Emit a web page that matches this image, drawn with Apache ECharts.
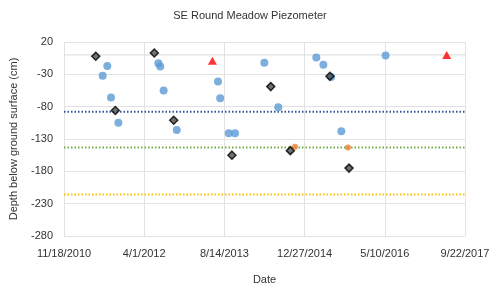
<!DOCTYPE html>
<html>
<head>
<meta charset="utf-8">
<script src="https://cdn.jsdelivr.net/npm/echarts@6/dist/echarts.min.js"></script>
<style>
  html, body { margin: 0; padding: 0; background: #fff; }
  #chart { width: 500px; height: 290px; }
</style>
</head>
<body>
<div id="chart"></div>
<script>
  // dates are Excel serial day numbers (40500 = 11/18/2010)
  var blueDates = [40741, 40770, 40793, 40839, 41088, 41100, 41121, 41203, 41460, 41474, 41527, 41566, 41749, 41836, 42073, 42117, 42165, 42229, 42505];
  var blueDepths = [-32, -17, -66, -105, -13, -18, -55, -116, -41, -67, -121, -121, -12, -81, -4, -15, -34, -118, -1];

  var diamondDates = [40698, 40820, 41063, 41184, 41547, 41789, 41911, 42158, 42277];
  var diamondDepths = [-2, -86, 3, -101, -155, -49, -148, -33, -175];

  var orangeDates = [41940, 42270];
  var orangeDepths = [-142, -143];

  var redDates = [41425, 42886];
  var redDepths = [-9, 0];

  // horizontal reference levels
  var refLevels = [-88, -143, -216];
  var refColors = ['#2F5597', '#70AD47', '#FFC000'];

  var xTicks = { min: 40500, max: 43000, step: 500 };
  var yTicks = { min: -280, max: 20, step: 50 };

  function pairs(xs, ys) {
    return xs.map(function(x, i) { return [x, ys[i]]; });
  }

  function serialToDate(v) {
    var d = new Date((v - 25569) * 86400000);
    return (d.getUTCMonth() + 1) + '/' + d.getUTCDate() + '/' + d.getUTCFullYear();
  }

  var font = 'Liberation Sans, Arial, sans-serif';

  var series = [];

  refLevels.forEach(function(level, i) {
    series.push({
      type: 'line',
      data: [[xTicks.min, level], [xTicks.max, level]],
      symbol: 'none',
      silent: true,
      lineStyle: { color: refColors[i], width: 2, type: [1.5, 2] },
      z: 1
    });
  });

  // zero line (Excel horizontal axis crossing)
  series.push({
    type: 'line',
    data: [[xTicks.min, 0], [xTicks.max, 0]],
    symbol: 'none',
    silent: true,
    lineStyle: { color: '#D9D9D9', width: 1 },
    z: 1
  });

  series.push({
    type: 'scatter',
    data: pairs(blueDates, blueDepths),
    symbol: 'circle',
    symbolSize: 8,
    itemStyle: { color: '#5B9BD5' },
    z: 3
  });

  series.push({
    type: 'scatter',
    data: pairs(orangeDates, orangeDepths),
    symbol: 'circle',
    symbolSize: 6,
    itemStyle: { color: '#ED7D31' },
    z: 4
  });

  series.push({
    type: 'scatter',
    data: pairs(diamondDates, diamondDepths),
    symbol: 'diamond',
    symbolSize: 8,
    itemStyle: { color: '#4D4D4D', borderColor: '#000', borderWidth: 1.5 },
    z: 5
  });

  series.push({
    type: 'scatter',
    data: pairs(redDates, redDepths),
    symbol: 'triangle',
    symbolSize: [9, 8],
    itemStyle: { color: '#FF0000' },
    z: 6
  });

  var option = {
    animation: false,
    title: {
      text: 'SE Round Meadow Piezometer',
      left: 'center',
      top: 5,
      textStyle: { fontFamily: font, fontSize: 11, fontWeight: 'normal', color: '#333' }
    },
    grid: { left: 64, right: 35, top: 42, bottom: 53 },
    xAxis: {
      type: 'value',
      min: xTicks.min,
      max: xTicks.max,
      interval: xTicks.step,
      name: 'Date',
      nameLocation: 'middle',
      nameGap: 38,
      nameTextStyle: { fontFamily: font, fontSize: 11, color: '#333' },
      axisLine: { show: false },
      axisTick: { show: false },
      axisLabel: {
        margin: 12,
        fontFamily: font,
        fontSize: 11,
        color: '#333',
        formatter: serialToDate
      },
      splitLine: { show: true, lineStyle: { color: '#E3E3E3' } }
    },
    yAxis: {
      type: 'value',
      min: yTicks.min,
      max: yTicks.max,
      interval: yTicks.step,
      name: 'Depth below ground surface (cm)',
      nameLocation: 'middle',
      nameGap: 45,
      nameTextStyle: { fontFamily: font, fontSize: 11, color: '#333' },
      axisLine: { show: false },
      axisTick: { show: false },
      axisLabel: { margin: 11, fontFamily: font, fontSize: 11, color: '#333' },
      splitLine: { show: true, lineStyle: { color: '#E3E3E3' } }
    },
    series: series
  };

  echarts.init(document.getElementById('chart')).setOption(option);
</script>
</body>
</html>
